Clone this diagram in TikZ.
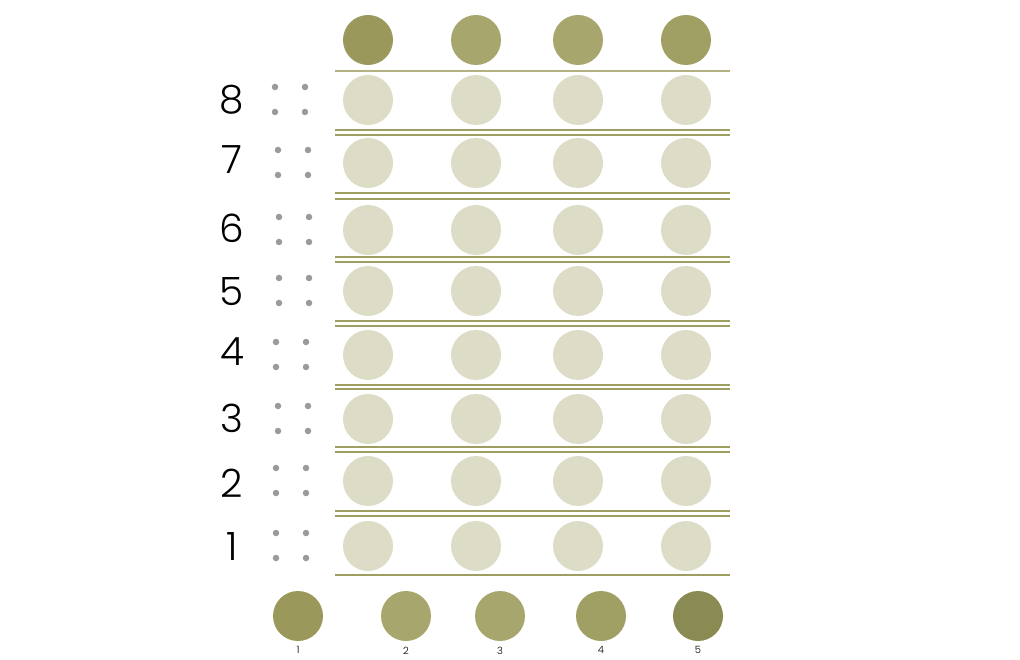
\documentclass[tikz,border=0pt]{standalone}
\usepackage{fontspec}
\setmainfont{Poppins}[UprightFont=* Light]
\usepackage{tikz}
\usetikzlibrary{positioning}

\definecolor{olive}{HTML}{9E9D62}
\definecolor{paleolive}{HTML}{DCDCC7}
\definecolor{dotgray}{HTML}{9A9A9A}
\definecolor{topA}{HTML}{9A995B}
\definecolor{topB}{HTML}{A7A66D}
\definecolor{topC}{HTML}{A0A064}
\definecolor{topD}{HTML}{8A8A53}

\begin{document}
\begin{tikzpicture}[
    x=1pt, y=-1pt,
    disc/.style={circle, inner sep=0pt, minimum size=50pt},
    cell/.style={disc, fill=paleolive},
    pip/.style={circle, inner sep=0pt, minimum size=6.5pt, fill=dotgray},
    rowlabel/.style={font=\fontsize{39}{39}\selectfont, anchor=center},
    keylabel/.style={font=\fontsize{10}{10}\selectfont},
    rule/.style={draw=olive, line width=1.3pt}
]
\useasboundingbox (0,0) rectangle (1020,660);

% Top row of discs
\node[disc, fill=topA] (top1) at (368,40) {};
\node[disc, fill=topB] (top2) at (476,40) {};
\node[disc, fill=topB] (top3) at (578,40) {};
\node[disc, fill=topC] (top4) at (686,40) {};

% Rules between rows
\draw[rule, draw=olive!80] (335,71) -- (730,71);
\foreach \ya/\yb in {130/135, 193/199, 257/262, 321/326, 385/389, 447/452, 511/516} {
    \draw[rule] (335,\ya) -- (730,\ya);
    \draw[rule] (335,\yb) -- (730,\yb);
}
\draw[rule] (335,575) -- (730,575);

% Rows: label, pips and cells
\foreach \n/\y/\ly/\px in {8/100/100/275, 7/163/160/278, 6/230/228/279, 5/291/292/279,
                          4/355/352/276, 3/419/418/278, 2/481/483/276, 1/546/547/276} {
    \node[rowlabel] (label\n) at (232,\ly) {\n};
    \node[pip] (pip\n a) at (\px,\y-13) {};
    \node[pip] (pip\n b) at (\px+30,\y-13) {};
    \node[pip] (pip\n c) at (\px,\y+12) {};
    \node[pip] (pip\n d) at (\px+30,\y+12) {};
    \node[cell] (cell\n a) at (368,\y) {};
    \node[cell] (cell\n b) at (476,\y) {};
    \node[cell] (cell\n c) at (578,\y) {};
    \node[cell] (cell\n d) at (686,\y) {};
}

% Key discs
\node[disc, fill=topA] (key1) at (298,616) {};
\node[disc, fill=topB] (key2) at (406,616) {};
\node[disc, fill=topB] (key3) at (500,616) {};
\node[disc, fill=topC] (key4) at (601,616) {};
\node[disc, fill=topD] (key5) at (698,616) {};
\foreach \k in {1,...,5} {
    \node[keylabel, below=2pt of key\k] (keytext\k) {\k};
}

\end{tikzpicture}
\end{document}
